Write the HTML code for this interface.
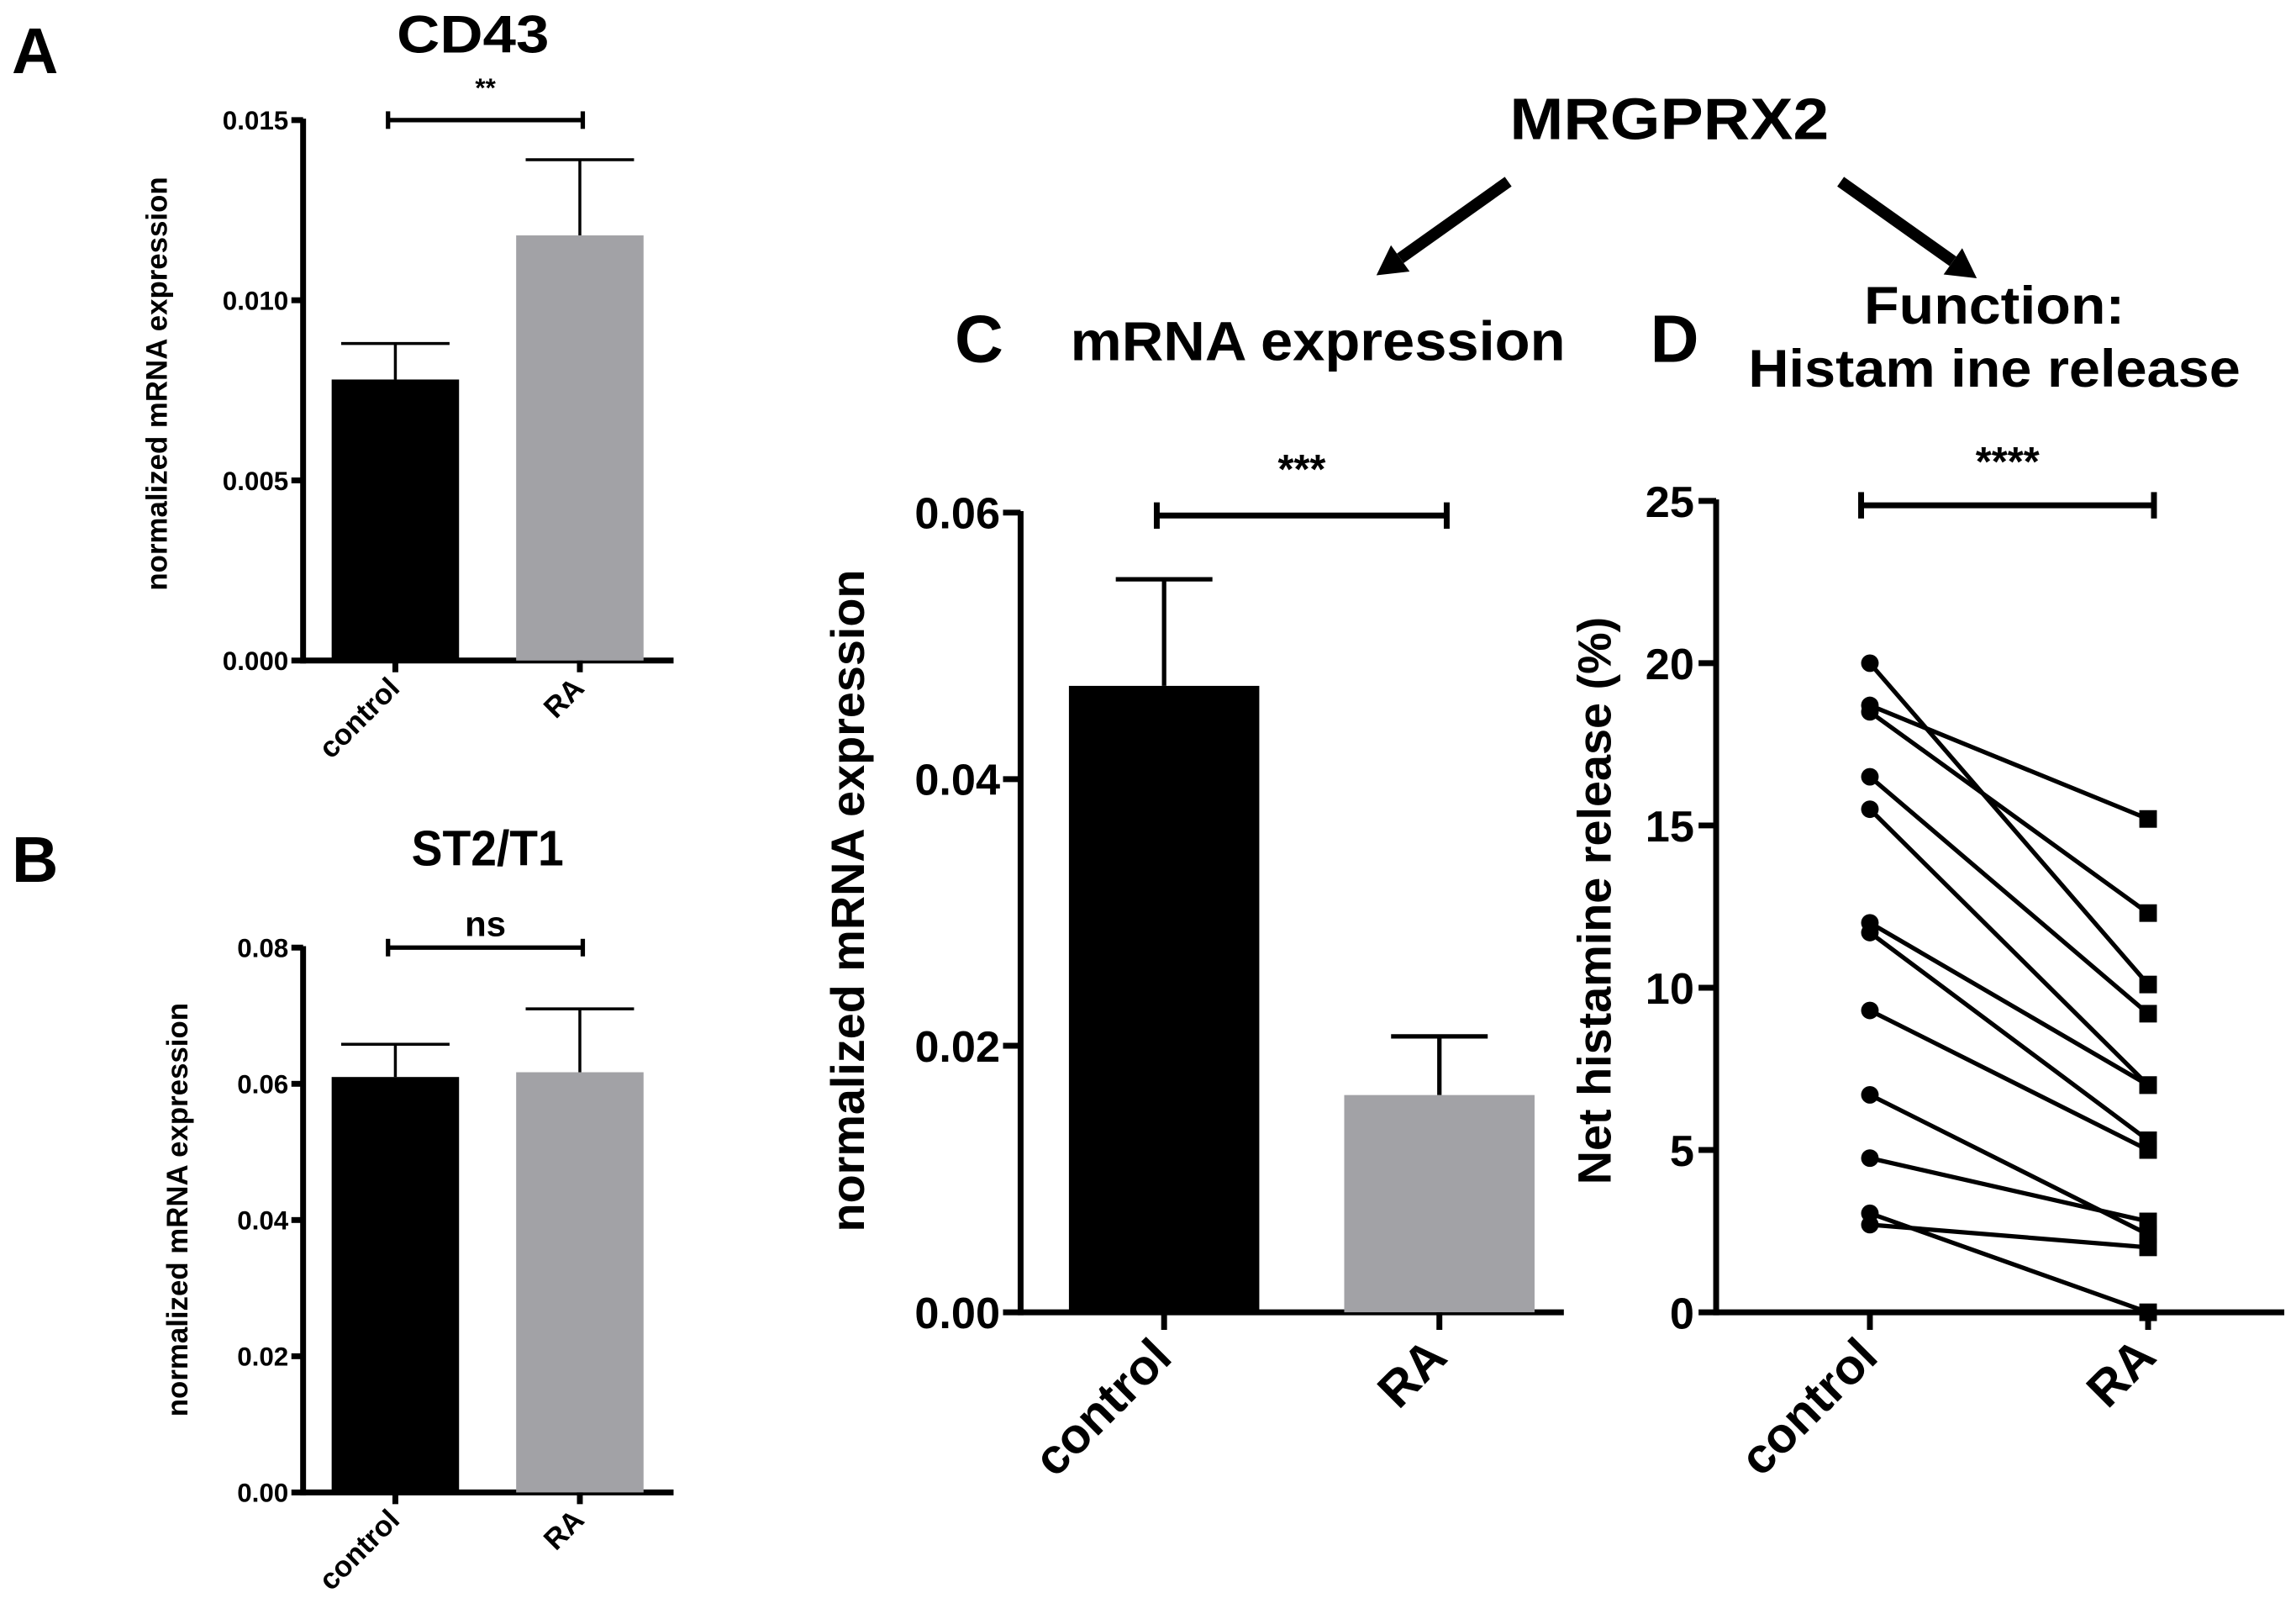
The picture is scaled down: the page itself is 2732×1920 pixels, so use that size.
<!DOCTYPE html>
<html><head><meta charset="utf-8"><style>
html,body{margin:0;padding:0;background:#fff;}
svg{display:block;}
text{font-family:"Liberation Sans",Arial,sans-serif;font-weight:bold;fill:#000;}
</style></head>
<body>
<svg id="fig" width="2732" height="1920" viewBox="0 0 1568 1102" preserveAspectRatio="none" xmlns="http://www.w3.org/2000/svg">
<rect width="1568" height="1102" fill="#fff"/>
<g id="root"></g>
</svg>
<script>
// Panel A: CD43
const aCats=["control","RA"];
const aMeans=[0.0078,0.0118];
const aErr=[0.0010,0.0021];
const aTicks=[0,0.005,0.010,0.015];
const aTickLabels=["0.000","0.005","0.010","0.015"];
// Panel B: ST2/T1
const bCats=["control","RA"];
const bMeans=[0.061,0.0617];
const bErr=[0.0048,0.0093];
const bTicks=[0,0.02,0.04,0.06,0.08];
const bTickLabels=["0.00","0.02","0.04","0.06","0.08"];
// Panel C: MRGPRX2 mRNA
const cCats=["control","RA"];
const cMeans=[0.047,0.0163];
const cErr=[0.008,0.0044];
const cTicks=[0,0.02,0.04,0.06];
const cTickLabels=["0.00","0.02","0.04","0.06"];
// Panel D: histamine release pairs
const dCats=["control","RA"];
const dControl=[20.0,18.7,18.5,16.5,15.5,12.0,11.7,9.3,6.7,4.75,3.05,2.7];
const dRA=[10.1,15.2,12.3,9.2,7.0,7.0,5.3,5.0,2.4,2.8,0.0,2.0];
const dTicks=[0,5,10,15,20,25];
const dTickLabels=["0","5","10","15","20","25"];

const NS="http://www.w3.org/2000/svg";
const root=document.getElementById('root');
function mk(tag,attrs,parent,txt){const e=document.createElementNS(NS,tag);for(const k in attrs)e.setAttribute(k,attrs[k]);if(txt!==undefined)e.textContent=txt;(parent||root).appendChild(e);return e;}
function lin(d0,d1,r0,r1){return v=>r0+(v-d0)*(r1-r0)/(d1-d0);}

function barPanel(o){
  const g=mk('g',{});
  
  
  const y=lin(o.dmin,o.dmax,o.y0,o.y1);
  const ax=mk('line',{x1:o.ax,y1:o.y1-1,x2:o.ax,y2:o.y0+o.lw/2,stroke:'#000','stroke-width':o.lw},g);
  
  
  o.ticks.forEach((t,i)=>{
    mk('line',{x1:o.ax-o.tl,y1:y(t),x2:o.ax,y2:y(t),stroke:'#000','stroke-width':o.lw},g);
    const tx=mk('text',{x:o.ax-o.tl-2,y:y(t)+o.fs*0.36,'font-size':o.fs,'text-anchor':'end'},g,o.tickLabels[i]);
    
    
  });
  const xa=mk('line',{x1:o.ax,y1:o.y0,x2:o.xend,y2:o.y0,stroke:'#000','stroke-width':o.lw},g);
  
  
  o.cats.forEach((c,i)=>{
    const cx=o.cx[i];
    const b=mk('rect',{x:cx-o.bw/2,y:y(o.means[i]),width:o.bw,height:o.y0-y(o.means[i]),fill:i==0?'#000':'#a2a2a6'},g);
    
    
    const top=y(o.means[i]+o.err[i]);
    mk('line',{x1:cx,y1:y(o.means[i]),x2:cx,y2:top,stroke:'#000','stroke-width':o.ew},g);
    const eb=mk('line',{x1:cx-o.cap,y1:top,x2:cx+o.cap,y2:top,stroke:'#000','stroke-width':o.ew},g);
    
    
    mk('line',{x1:cx,y1:o.y0,x2:cx,y2:o.y0+o.tl,stroke:'#000','stroke-width':o.lw},g);
    const lx=cx+o.xfs*0.2, ly=o.y0+o.tl+o.xfs*0.6;
    const t=mk('text',{x:lx,y:ly,'font-size':o.xfs,'text-anchor':'end',transform:`rotate(-45 ${lx} ${ly})`},g,c);
    
    
  });
  const yl=mk('text',{x:o.ylx,y:o.yly,'font-size':o.yfs,'text-anchor':'middle',transform:`rotate(-90 ${o.ylx} ${o.yly})`},g,o.ylabel);
  
  
  return g;
}
function bracket(x1,x2,yy,lw,cap,label,fs,ly){
  const g=mk('g',{});
  
  
  mk('line',{x1:x1,y1:yy,x2:x2,y2:yy,stroke:'#000','stroke-width':lw},g);
  mk('line',{x1:x1,y1:yy-cap,x2:x1,y2:yy+cap,stroke:'#000','stroke-width':lw},g);
  mk('line',{x1:x2,y1:yy-cap,x2:x2,y2:yy+cap,stroke:'#000','stroke-width':lw},g);
  const t=mk('text',{x:(x1+x2)/2,y:ly,'font-size':fs,'text-anchor':'middle','font-weight':'normal'},g,label);
  
  
}
function label(x,y,fs,txt,name,anchor,len){
  const a={x:x,y:y,'font-size':fs,'text-anchor':anchor||'middle'};
  if(len){a.textLength=len;a.lengthAdjust='spacingAndGlyphs';}
  const t=mk('text',a,root,txt);
  
  
}

// Panel A
barPanel({name:'panel-a-cd43',dmin:0,dmax:0.015,y0:451,y1:82,ax:207,xend:460,tl:8,lw:4,fs:18,cats:aCats,means:aMeans,err:aErr,ticks:aTicks,tickLabels:aTickLabels,cx:[270,396],bw:87,cap:37,ew:2,xfs:20,ylx:114,yly:262,yfs:20,ylabel:'normalized mRNA expression'});
bracket(265,398,82,3,6,'**',18,66);
label(323,36,36,'CD43','title-cd43','middle',104);
label(8,50,44,'A','panel-label-a','start');

// Panel B
barPanel({name:'panel-b-st2',dmin:0,dmax:0.08,y0:1019,y1:647,ax:207,xend:460,tl:8,lw:4,fs:18,cats:bCats,means:bMeans,err:bErr,ticks:bTicks,tickLabels:bTickLabels,cx:[270,396],bw:87,cap:37,ew:2,xfs:20,ylx:128,yly:826,yfs:20,ylabel:'normalized mRNA expression'});
bracket(265,398,647,3,6,'ns',24,639);
label(333,591,34,'ST2/T1','title-st2-t1','middle',104);
label(8,602,44,'B','panel-label-b','start');

// Panel C
barPanel({name:'panel-c-mrgprx2-mrna',dmin:0,dmax:0.06,y0:896,y1:350,ax:697,xend:1068,tl:12,lw:4,fs:30,cats:cCats,means:cMeans,err:cErr,ticks:cTicks,tickLabels:cTickLabels,cx:[795,983],bw:130,cap:33,ew:3,xfs:34,ylx:590,yly:615,yfs:32,ylabel:'normalized mRNA expression'});
bracket(790,988,352,4,9,'***',28,330);
label(652,247,46,'C','panel-label-c','start');
label(900,246,38,'mRNA expression','title-mrna-expression','middle',338);
label(1140,95,40,'MRGPRX2','title-mrgprx2','middle',218);
label(1127,247,46,'D','panel-label-d','start');
label(1362,221,36,'Function:','title-function','middle',178);
label(1362,264,36,'Histam ine release','title-histamine-release','middle',336);

// arrows
function arrow(x1,y1,x2,y2,name){
  const g=mk('g',{});
  
  
  const ang=Math.atan2(y2-y1,x2-x1);
  const hl=20,hw=11;
  const bx=x2-hl*Math.cos(ang),by=y2-hl*Math.sin(ang);
  mk('line',{x1:x1,y1:y1,x2:bx,y2:by,stroke:'#000','stroke-width':8},g);
  const px=-Math.sin(ang)*hw,py=Math.cos(ang)*hw;
  mk('polygon',{points:`${x2},${y2} ${bx+px},${by+py} ${bx-px},${by-py}`,fill:'#000'},g);
}
arrow(1030,124,940,188,'arrow-to-mrna');
arrow(1257,124,1350,190,'arrow-to-function');

// Panel D
(function(){
  const g=mk('g',{});
  
  
  const y=lin(0,25,896,342);
  const ax=1172, xs=[1277,1467];
  const ya=mk('line',{x1:ax,y1:341,x2:ax,y2:898,stroke:'#000','stroke-width':4},g);
  
  
  dTicks.forEach((t,i)=>{
    mk('line',{x1:ax-12,y1:y(t),x2:ax,y2:y(t),stroke:'#000','stroke-width':4},g);
    const tx=mk('text',{x:ax-15,y:y(t)+11,'font-size':30,'text-anchor':'end'},g,dTickLabels[i]);
    
    
  });
  const xa=mk('line',{x1:ax,y1:896,x2:1560,y2:896,stroke:'#000','stroke-width':4},g);
  
  
  dCats.forEach((c,i)=>{
    mk('line',{x1:xs[i],y1:896,x2:xs[i],y2:908,stroke:'#000','stroke-width':4},g);
    const lx=xs[i]+7, ly=928;
    const t=mk('text',{x:lx,y:ly,'font-size':34,'text-anchor':'end',transform:`rotate(-45 ${lx} ${ly})`},g,c);
    
    
  });
  dControl.forEach((v,i)=>{
    const l=mk('line',{x1:xs[0],y1:y(v),x2:xs[1],y2:y(dRA[i]),stroke:'#000','stroke-width':3},g);
    
    
    const p=mk('circle',{cx:xs[0],cy:y(v),r:6,fill:'#000'},g);
    
    
    const s=mk('rect',{x:xs[1]-6,y:y(dRA[i])-6,width:12,height:12,fill:'#000'},g);
    
    
  });
  const yl=mk('text',{x:1100,y:615,'font-size':32,'text-anchor':'middle',transform:'rotate(-90 1100 615)'},g,'Net histamine release (%)');
  
  
})();
bracket(1271,1471,345,4,9,'****',28,325);
</script>
</body></html>
